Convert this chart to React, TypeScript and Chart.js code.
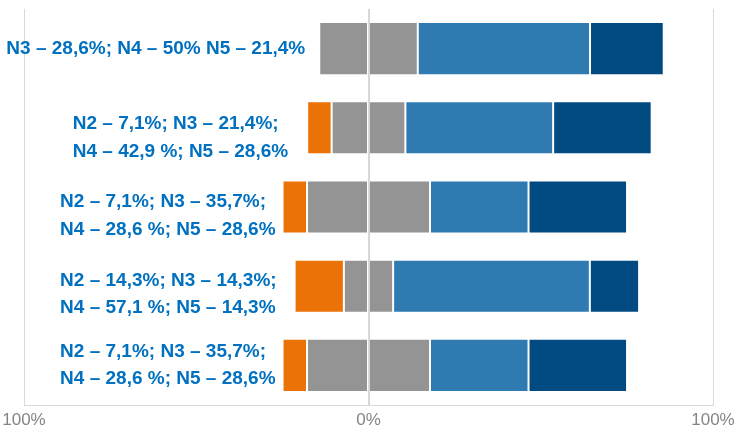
import React, { useEffect, useRef } from "react";
import { Chart, registerables } from "chart.js";

Chart.register(...registerables);

// ---- data ----
const categories: string[][] = [
  ["N3 – 28,6%; N4 – 50% N5 – 21,4%"],
  ["N2 – 7,1%; N3 – 21,4%;", "N4 – 42,9 %; N5 – 28,6%"],
  ["N2 – 7,1%; N3 – 35,7%;", "N4 – 28,6 %; N5 – 28,6%"],
  ["N2 – 14,3%; N3 – 14,3%;", "N4 – 57,1 %; N5 – 14,3%"],
  ["N2 – 7,1%; N3 – 35,7%;", "N4 – 28,6 %; N5 – 28,6%"],
];
const n2 = [0, 7.1, 7.1, 14.3, 7.1];
const n3 = [28.6, 21.4, 35.7, 14.3, 35.7];
const n4 = [50, 42.9, 28.6, 57.1, 28.6];
const n5 = [21.4, 28.6, 28.6, 14.3, 28.6];
const xTicks = [-100, 0, 100];

// ---- style ----
const LABEL_GAP = [14, 19, 7, 18, 7];
const LABEL_DY = [0, 10, 9, 8, 0];
const LINE_H = 27.5;
const LABEL_FONT = 'bold 19px "Liberation Sans", Arial, sans-serif';

const labelPlugin = {
  id: "catLabels",
  afterDatasetsDraw(chart: any) {
    const ctx = chart.ctx;
    const x = chart.scales.x;
    const y = chart.scales.y;
    ctx.save();
    // zero line over the bars
    const zx = Math.round(x.getPixelForValue(0)) + 0.5;
    ctx.strokeStyle = "#d4d4d4";
    ctx.lineWidth = 1;
    ctx.beginPath();
    ctx.moveTo(zx, chart.chartArea.top);
    ctx.lineTo(zx, chart.chartArea.bottom);
    ctx.stroke();
    // category labels
    ctx.font = LABEL_FONT;
    ctx.fillStyle = "#0070C0";
    ctx.textBaseline = "middle";
    ctx.textAlign = "left";
    categories.forEach((lines, i) => {
      const left = x.getPixelForValue(-(n2[i] + n3[i] / 2));
      const right = left - LABEL_GAP[i];
      const w = Math.max(...lines.map((l) => ctx.measureText(l).width));
      const cy = y.getPixelForValue(i) + LABEL_DY[i];
      lines.forEach((l, k) => {
        ctx.fillText(l, right - w, cy + (k - (lines.length - 1) / 2) * LINE_H);
      });
    });
    ctx.restore();
  },
};

export default function App() {
  const ref = useRef<HTMLCanvasElement>(null);
  useEffect(() => {
    document.body.style.margin = "0";
    const border = "rgba(255,255,255,0.3)";
    const common = {
      borderColor: border,
      borderWidth: 1,
      borderSkipped: false,
      barPercentage: 0.67,
      categoryPercentage: 1,
    };
    const chart = new Chart(ref.current!, {
      type: "bar",
      data: {
        labels: categories.map((c) => c.join(" ")),
        datasets: [
          { label: "N3a", data: n3.map((v) => -v / 2), backgroundColor: "#949494", ...common },
          { label: "N2", data: n2.map((v) => -v), backgroundColor: "#EB7207", ...common },
          { label: "N3b", data: n3.map((v) => v / 2), backgroundColor: "#949494", ...common },
          { label: "N4", data: n4, backgroundColor: "#2E7AB1", ...common },
          { label: "N5", data: n5, backgroundColor: "#024A82", ...common },
        ] as any,
      },
      options: {
        indexAxis: "y",
        animation: false,
        responsive: false,
        maintainAspectRatio: false,
        layout: { padding: { left: 24, right: 24, top: 9, bottom: 0 } },
        plugins: { legend: { display: false }, tooltip: { enabled: false } },
        scales: {
          x: {
            stacked: true,
            min: -100,
            max: 100,
            afterBuildTicks: (s: any) => {
              s.ticks = xTicks.map((v) => ({ value: v }));
            },
            afterFit: (s: any) => {
              s.height = 24;
              s.paddingLeft = 0;
              s.paddingRight = 0;
            },
            grid: { color: "#d9d9d9", lineWidth: 1, drawTicks: false },
            border: { display: true, color: "#d9d9d9" },
            ticks: {
              padding: 5,
              color: "#858585",
              font: { family: '"Liberation Sans", Arial, sans-serif', size: 17 },
              callback: (v: any) => Math.abs(Number(v)) + "%",
              maxRotation: 0,
            },
          },
          y: { stacked: true, display: false },
        },
      },
      plugins: [labelPlugin],
    });
    return () => chart.destroy();
  }, []);
  return (
    <div style={{ width: 737, height: 429 }}>
      <canvas ref={ref} width={737} height={429} style={{ display: "block" }} />
    </div>
  );
}
